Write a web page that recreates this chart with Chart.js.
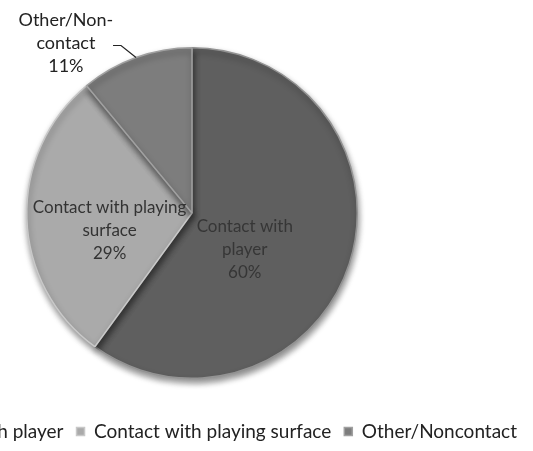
<!DOCTYPE html>
<html>
<head>
<meta charset="utf-8">
<script src="https://cdn.jsdelivr.net/npm/chart.js@4.4.1/dist/chart.umd.min.js"></script>
<style>
  html, body { margin: 0; padding: 0; background: #fff; overflow: hidden; }
  #wrap { position: absolute; left: -146px; top: 0; width: 676px; height: 451px; }
</style>
</head>
<body>
<div id="wrap"><canvas id="pie" width="676" height="451"></canvas></div>
<script>
// 受傷の原因
const labels = ['Contact with player', 'Contact with playing surface', 'Other/Noncontact']
const shares = [60, 29, 11]
// ラベル内の表示文字列
const labelLines = [
    ['Contact with', 'player'],
    ['Contact with playing', 'surface'],
    ['Other/Non-', 'contact']
]
const colors = ['#5f5f5f', '#aaaaaa', '#7d7d7d']

const FONT = 'Lato, "Open Sans", sans-serif'

// 影をつけて描く
const shadowPlugin = {
    id: 'pieShadow',
    beforeDatasetsDraw(chart){
        const ctx = chart.ctx
        ctx.save()
        ctx.shadowColor = 'rgba(0,0,0,0.45)'
        ctx.shadowBlur = 6
        ctx.shadowOffsetX = 1
        ctx.shadowOffsetY = 4
    },
    afterDatasetsDraw(chart){
        chart.ctx.restore()
    }
}

// 扇形の上にラベルを描く
const labelPlugin = {
    id: 'sliceLabels',
    afterDraw(chart, args, opts){
        const ctx = chart.ctx
        const meta = chart.getDatasetMeta(0)
        ctx.save()
        ctx.textAlign = 'center'
        ctx.textBaseline = 'middle'
        meta.data.forEach((arc, i)=>{
            const p = opts.place[i]
            const cx = arc.x, cy = arc.y, R = arc.outerRadius
            const a = (p.angle - 90) * Math.PI / 180
            const x = cx + Math.cos(a) * R * p.r
            const y = cy + Math.sin(a) * R * p.r
            const lines = labelLines[i].concat([shares[i] + '%'])
            const lh = 23
            ctx.font = `${p.size}px ${FONT}`
            ctx.fillStyle = p.color
            lines.forEach((t, k)=>{
                ctx.fillText(t, x, y + (k - (lines.length-1)/2) * lh)
            })
            if(p.leader){
                // 外側ラベルの引き出し線
                const mid = (arc.startAngle + arc.endAngle) / 2
                const ex = cx + Math.cos(mid) * R
                const ey = cy + Math.sin(mid) * R
                ctx.strokeStyle = '#222'
                ctx.lineWidth = 1.2
                ctx.beginPath()
                ctx.moveTo(ex, ey)
                ctx.lineTo(ex - 15, ey - 12)
                ctx.lineTo(ex - 23, ey - 12)
                ctx.stroke()
            }
        })
        ctx.restore()
    }
}

const chart = new Chart(
    document.getElementById('pie'),
    {
        type: 'pie',
        data: {
            labels: labels,
            datasets: [{
                data: shares,
                backgroundColor: colors,
                borderColor: ['#939393', '#c8c8c8', '#a0a0a0'],
                borderWidth: 1.5
            }]
        },
        options: {
            responsive: false,
            animation: false,
            devicePixelRatio: 1,
            layout: { padding: { top: 47, bottom: 0, left: 0, right: 0 } },
            plugins: {
                tooltip: { enabled: false },
                legend: {
                    position: 'bottom',
                    align: 'end',
                    // 空のタイトルで凡例を下へずらす
                    title: {
                        display: true,
                        text: ' ',
                        font: { size: 10 },
                        padding: { top: 18, bottom: 0 }
                    },
                    labels: {
                        boxWidth: 8,
                        boxHeight: 8,
                        padding: 13,
                        color: '#222',
                        font: { family: FONT, size: 19 }
                    }
                },
                sliceLabels: {
                    place: [
                        { angle: 125, r: 0.39, color: '#363636', size: 17 },
                        { angle: 257.8, r: 0.51, color: '#333', size: 17 },
                        { angle: 323.4, r: 1.28, color: '#222', size: 18, leader: true }
                    ]
                }
            }
        },
        plugins: [shadowPlugin, labelPlugin]
    }
)
</script>
</body>
</html>
